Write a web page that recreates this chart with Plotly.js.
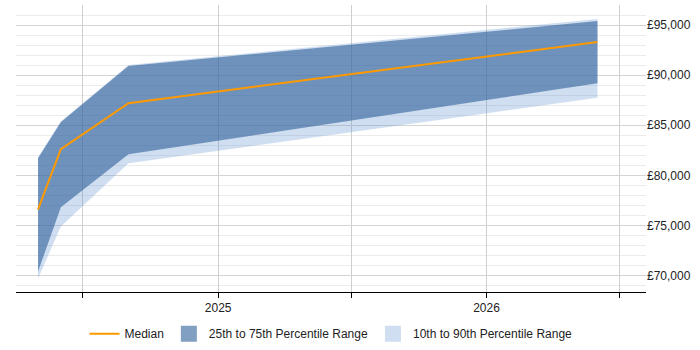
<!DOCTYPE html>
<html>
<head>
<meta charset="utf-8">
<script src="https://cdn.plot.ly/plotly-3.0.1.min.js"></script>
<style>
  html, body { margin: 0; padding: 0; background: #fff; }
  #chart { width: 700px; height: 350px; }
</style>
</head>
<body>
<div id="chart"></div>
<script>
// Salary percentiles over time (GBP)
const dates = ['2024-05-01', '2024-06-01', '2024-09-01', '2026-06-01'];
const p10 = [69700, 74900, 81200, 87750];
const p25 = [70400, 76800, 82100, 89200];
const median = [76600, 82600, 87200, 93300];
const p75 = [81700, 85300, 90900, 95400];
const p90 = [81800, 85400, 91000, 95600];

const xTickVals = ['2024-07-01', '2025-01-01', '2025-07-01', '2026-01-01', '2026-07-01'];
const xTickText = ['', '2025', '', '2026', ''];
const yTickVals = [70000, 75000, 80000, 85000, 90000, 95000];
const yTickText = yTickVals.map(v => '£' + v.toLocaleString('en-GB'));

// translucent band fills so the grid shows through
const lightBand = 'rgba(95,145,205,0.3)';
const darkBand = 'rgba(45,95,152,0.6)';
const orange = 'rgb(255,153,0)';

const traces = [
  { x: dates, y: p10, mode: 'lines', line: { width: 0 },
    showlegend: false, hoverinfo: 'skip' },
  { x: dates, y: p90, mode: 'lines', line: { width: 0 },
    fill: 'tonexty', fillcolor: lightBand, showlegend: false },
  { x: dates, y: p25, mode: 'lines', line: { width: 0 },
    showlegend: false, hoverinfo: 'skip' },
  { x: dates, y: p75, mode: 'lines', line: { width: 0 },
    fill: 'tonexty', fillcolor: darkBand, showlegend: false },
  { x: dates, y: median, mode: 'lines', line: { width: 2, color: orange },
    name: 'Median', legendrank: 1 },
  // legend keys for the two bands
  { x: [null], y: [null], mode: 'markers', name: '25th to 75th Percentile Range',
    marker: { symbol: 'square', size: 16, color: darkBand, line: { width: 0 } },
    legendrank: 2 },
  { x: [null], y: [null], mode: 'markers', name: '10th to 90th Percentile Range',
    marker: { symbol: 'square', size: 16, color: lightBand, line: { width: 0 } },
    legendrank: 3 }
];

const layout = {
  width: 700, height: 350,
  margin: { l: 16, r: 54, t: 5, b: 58, autoexpand: false },
  paper_bgcolor: '#fff', plot_bgcolor: '#fff',
  font: { family: 'Liberation Sans, Arial, sans-serif', size: 12, color: '#222' },
  showlegend: true,
  hovermode: false,
  legend: {
    orientation: 'h', x: 0.5, xanchor: 'center', y: -0.095, yanchor: 'top',
    traceorder: 'normal',
    font: { size: 12, color: '#222' }, itemwidth: 30
  },
  xaxis: {
    type: 'date',
    range: ['2024-04-01', '2026-08-06'],
    tickmode: 'array', tickvals: xTickVals, ticktext: xTickText,
    ticks: 'outside', ticklen: 5, tickcolor: '#000', tickwidth: 1,
    showgrid: true, gridcolor: '#cfcfcf', gridwidth: 1,
    showline: true, linecolor: '#000', linewidth: 1,
    zeroline: false, fixedrange: true
  },
  yaxis: {
    side: 'right',
    range: [68350, 97000],
    tickmode: 'array', tickvals: yTickVals, ticktext: yTickText,
    showgrid: true, gridcolor: '#d4d4d4', gridwidth: 1,
    minor: { dtick: 1000, tick0: 0, showgrid: true, gridcolor: '#ebebeb', gridwidth: 1 },
    showline: false, zeroline: false, ticks: '', fixedrange: true
  }
};

Plotly.newPlot('chart', traces, layout, { displayModeBar: false, staticPlot: true });
</script>
</body>
</html>
